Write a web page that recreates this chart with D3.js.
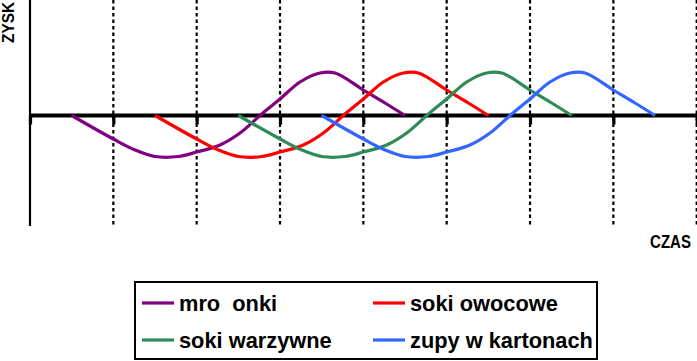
<!DOCTYPE html>
<html>
<head>
<meta charset="utf-8">
<script src="https://cdn.jsdelivr.net/npm/d3@7/dist/d3.min.js"></script>
<style>
  html, body { margin: 0; padding: 0; background: #fff; }
  svg { display: block; }
  text { font-family: "Liberation Sans", Arial, sans-serif; font-weight: bold; }
</style>
</head>
<body>
<svg id="chart" width="697" height="361"></svg>
<script>
// ---- data ----
const xTicks = [0, 1, 2, 3, 4, 5, 6, 7, 8];
const seriesNames = ["mro  onki", "soki owocowe", "soki warzywne", "zupy w kartonach"];
const seriesColors = ["#800080", "#ff0000", "#2e8b57", "#3366ff"];

const mroTime   = [0.5, 1.0, 1.26, 1.5, 1.78, 2.0, 2.28, 2.52, 2.76, 3.0, 3.24, 3.48, 3.66, 4.0, 4.26, 4.5];
const mroValue  = [0, -0.235, -0.345, -0.41, -0.41, -0.365, -0.295, -0.175, 0, 0.165, 0.335, 0.425, 0.425, 0.255, 0.125, 0];

const owoTime   = [1.5, 2.0, 2.26, 2.5, 2.78, 3.0, 3.28, 3.52, 3.76, 4.0, 4.24, 4.48, 4.66, 5.0, 5.26, 5.5];
const owoValue  = [0, -0.235, -0.345, -0.41, -0.41, -0.365, -0.295, -0.175, 0, 0.165, 0.335, 0.425, 0.425, 0.255, 0.125, 0];

const warTime   = [2.5, 3.0, 3.26, 3.5, 3.78, 4.0, 4.28, 4.52, 4.76, 5.0, 5.24, 5.48, 5.66, 6.0, 6.26, 6.5];
const warValue  = [0, -0.235, -0.345, -0.41, -0.41, -0.365, -0.295, -0.175, 0, 0.165, 0.335, 0.425, 0.425, 0.255, 0.125, 0];

const zupTime   = [3.5, 4.0, 4.26, 4.5, 4.78, 5.0, 5.28, 5.52, 5.76, 6.0, 6.24, 6.48, 6.66, 7.0, 7.26, 7.5];
const zupValue  = [0, -0.235, -0.345, -0.41, -0.41, -0.365, -0.295, -0.175, 0, 0.165, 0.335, 0.425, 0.425, 0.255, 0.125, 0];

const seriesTimes = [mroTime, owoTime, warTime, zupTime];
const seriesValues = [mroValue, owoValue, warValue, zupValue];

// ---- scales ----
const svg = d3.select("#chart");
const x = d3.scaleLinear().domain([0, 8]).range([30, 696.7]);
const y = d3.scaleLinear().domain([-1.105, 1.155]).range([226, 0]);

// dotted grid lines
svg.append("g").selectAll("line")
  .data(xTicks.slice(1))
  .join("line")
  .attr("x1", d => x(d)).attr("x2", d => x(d))
  .attr("y1", 0).attr("y2", 226)
  .attr("stroke", "#000").attr("stroke-width", 2.2)
  .attr("stroke-dasharray", "3.5,3");

// y axis line
svg.append("line")
  .attr("x1", x(0)).attr("x2", x(0))
  .attr("y1", 0).attr("y2", 226)
  .attr("stroke", "#000").attr("stroke-width", 2.2);

// x axis via d3 axis
const xAxis = d3.axisBottom(x).tickValues(xTicks).tickSize(9).tickFormat("");
const gx = svg.append("g").attr("transform", `translate(0,${y(0)})`).call(xAxis);
gx.select(".domain").attr("stroke", "#000").attr("stroke-width", 4)
  .attr("d", `M${x(0)},0H697`);
gx.selectAll(".tick line").attr("stroke", "#000").attr("stroke-width", 3.2);

// curves
const line = d3.line().x(d => x(d[0])).y(d => y(d[1])).curve(d3.curveCatmullRom.alpha(0.5));
seriesNames.forEach((name, i) => {
  const pts = seriesTimes[i].map((t, j) => [t, seriesValues[i][j]]);
  svg.append("path")
    .datum(pts)
    .attr("d", line)
    .attr("fill", "none")
    .attr("stroke", seriesColors[i])
    .attr("stroke-width", 3.2)
    .attr("stroke-linejoin", "round");
});

// axis titles
svg.append("text")
  .attr("transform", "translate(14,2) rotate(-90)")
  .attr("text-anchor", "end")
  .attr("font-size", 16)
  .attr("textLength", 41).attr("lengthAdjust", "spacingAndGlyphs")
  .text("ZYSK");

svg.append("text")
  .attr("x", 650).attr("y", 248)
  .attr("font-size", 17.5)
  .attr("textLength", 41).attr("lengthAdjust", "spacingAndGlyphs")
  .text("CZAS");

// legend
svg.append("rect")
  .attr("x", 135).attr("y", 282).attr("width", 462).attr("height", 77)
  .attr("fill", "#fff").attr("stroke", "#000").attr("stroke-width", 2);

const legendPos = [[142, 303], [373, 303], [142, 340], [373, 340]];
seriesNames.forEach((name, i) => {
  const [lx, ly] = legendPos[i];
  svg.append("line")
    .attr("x1", lx).attr("x2", lx + 32)
    .attr("y1", ly).attr("y2", ly)
    .attr("stroke", seriesColors[i]).attr("stroke-width", 3.2);
  svg.append("text")
    .attr("x", lx + 37).attr("y", ly + 7.5)
    .attr("font-size", 21.8)
    .style("white-space", "pre")
    .text(name);
});
</script>
</body>
</html>
